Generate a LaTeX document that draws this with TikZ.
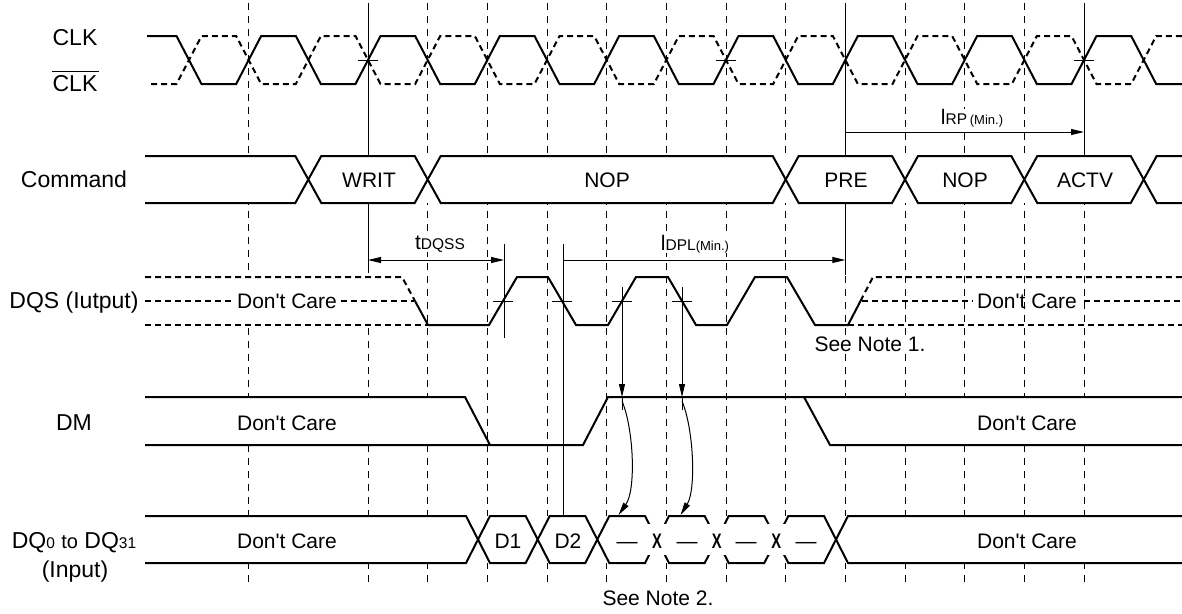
\documentclass[tikz,border=0pt]{standalone}
\usepackage{fontspec}
\setmainfont{Liberation Sans}
\usetikzlibrary{arrows.meta}
\newcommand\fsL{\fontsize{23}{27}\selectfont}
\newcommand\fsM{\fontsize{21}{25}\selectfont}
\newcommand\fsT{\fontsize{20}{24}\selectfont}
\newcommand\fsS{\fontsize{15.5}{18}\selectfont}
\newcommand\fsXS{\fontsize{13}{16}\selectfont}
\newcommand\fsX{\fontsize{21}{24}\selectfont\bfseries}
\newcommand\apos{\textquotesingle}
\begin{document}
\begin{tikzpicture}[x=1pt,y=-1pt,
  wave/.style={line width=2pt},
  dcare/.style={line width=2pt, dash pattern=on 6pt off 4pt},
  gridl/.style={line width=1pt, dash pattern=on 7pt off 6pt},
  thinl/.style={line width=1pt},
  arr/.style={thinl, -{Triangle[length=13pt,width=6pt]}},
  darr/.style={thinl, {Triangle[length=13pt,width=6pt]}-{Triangle[length=13pt,width=6pt]}},
  lbl/.style={font=\fsL, inner sep=0pt, anchor=base},
  txt/.style={font=\fsM, inner sep=0pt, anchor=base},
  ctxt/.style={inner sep=0pt, anchor=base, fill=white}
]
\useasboundingbox (0,0) rectangle (1182,613);
\fill[white] (0,0) rectangle (1182,613);

% vertical grid
\foreach \k in {-2,0,1,...,12}
  \draw[gridl] ({368+59.667*\k},3) -- ({368+59.667*\k},585);
\draw[thinl] (368,3) -- (368,273);
\draw[thinl] (845.3,3) -- (845.3,275);
\draw[thinl] (1084,3) -- (1084,155);

% white regions hiding the grid
\fill[white] (145,156) rectangle (1182,203);
\fill[white] (145,277) -- (402,277) -- (428,325) -- (145,325) -- cycle;
\fill[white] (145,397) -- (465,397) -- (490,445) -- (145,445) -- cycle;
\fill[white] (804,397) -- (1182,397) -- (1182,445) -- (830,445) -- cycle;
\fill[white] (145,516) rectangle (1182,563);

% CLK and /CLK
\draw[wave] (147,36) \foreach \k in {-3,...,13} {
   -- ({368+59.667*\k-12.5},{60-24*(2*mod(\k+4,2)-1)})
   -- ({368+59.667*\k+12.5},{60+24*(2*mod(\k+4,2)-1)}) } -- (1182,84);
\draw[dcare] (151,84) \foreach \k in {-3,...,13} {
   -- ({368+59.667*\k-12.5},{60+24*(2*mod(\k+4,2)-1)})
   -- ({368+59.667*\k+12.5},{60-24*(2*mod(\k+4,2)-1)}) } -- (1182,36);
\foreach \x in {368,726,1084}
  \draw[thinl] (\x-10,60) -- (\x+10,60);

% Command bus
\draw[wave] (145,156) -- (295.3,156) -- (321.3,203) -- (414.7,203) -- (440.7,156)
  -- (772.7,156) -- (798.7,203) -- (892,203) -- (918,156) -- (1011.3,156)
  -- (1037.3,203) -- (1130.7,203) -- (1156.7,156) -- (1182,156);
\draw[wave] (145,203) -- (295.3,203) -- (321.3,156) -- (414.7,156) -- (440.7,203)
  -- (772.7,203) -- (798.7,156) -- (892,156) -- (918,203) -- (1011.3,203)
  -- (1037.3,156) -- (1130.7,156) -- (1156.7,203) -- (1182,203);

% DQS
\draw[dcare] (145,277) -- (402,277) -- (415,301);
\draw[dcare] (145,325) -- (428,325);
\draw[dcare] (145,301) -- (233,301);
\draw[dcare] (341,301) -- (414,301);
\draw[wave] (415,301) -- (428,325) -- (489,325) -- (517,277) -- (548,277) -- (576,325)
  -- (608,325) -- (636,277) -- (668,277) -- (696,325) -- (727,325) -- (755,277)
  -- (787,277) -- (815,325) -- (848,325) -- (860.5,301);
\draw[dcare] (860.5,301) -- (873,277) -- (1182,277);
\draw[dcare] (848,325) -- (1182,325);
\draw[dcare] (862,301) -- (973,301);
\draw[dcare] (1084,301) -- (1182,301);
\foreach \x in {503,562,622,682}
  \draw[thinl] (\x-10,301) -- (\x+10,301);
\draw[thinl] (504,244) -- (504,338);
\draw[thinl] (563,244) -- (563,516);

% DM
\draw[wave] (145,397) -- (465,397) -- (490,445);
\draw[wave] (145,445) -- (583,445) -- (608,397) -- (1182,397);
\draw[wave] (804,397) -- (830,445) -- (1182,445);

% DQ bus
\draw[wave] (145,516) -- (466,516) -- (490,563) -- (525.7,563) -- (549.7,516)
  -- (585.3,516) -- (609.3,563) -- (645,563) -- (669,516) -- (704.7,516)
  -- (728.7,563) -- (764.3,563) -- (788.3,516) -- (824,516) -- (848,563) -- (1182,563);
\draw[wave] (145,563) -- (466,563) -- (490,516) -- (525.7,516) -- (549.7,563)
  -- (585.3,563) -- (609.3,516) -- (645,516) -- (669,563) -- (704.7,563)
  -- (728.7,516) -- (764.3,516) -- (788.3,563) -- (824,563) -- (848,516) -- (1182,516);
\fill[white] (647.5,524) rectangle (666.5,555);
\fill[white] (707.2,524) rectangle (726.2,555);
\fill[white] (766.8,524) rectangle (785.8,555);
\node[inner sep=0pt, anchor=base] (xa) at (657,548.5) {\scalebox{0.7}[1]{\fsX X}};
\node[inner sep=0pt, anchor=base] (xb) at (716.7,548.5) {\scalebox{0.7}[1]{\fsX X}};
\node[inner sep=0pt, anchor=base] (xc) at (776.3,548.5) {\scalebox{0.7}[1]{\fsX X}};

% timing arrows
\coordinate (wrA) at (368,260);
\coordinate (dqsA) at (504,260);
\coordinate (dplA) at (563,260);
\coordinate (preA) at (845.3,260);
\coordinate (rpA) at (845.3,132);
\coordinate (actA) at (1084,132);
\draw[darr] (wrA) -- (dqsA);
\draw[arr] (dplA) -- (preA);
\draw[arr] (rpA) -- (actA);

% DQS -> DM -> DQ arrows
\coordinate (s1) at (622,287);
\coordinate (m1) at (622,397);
\coordinate (m1b) at (622,410);
\coordinate (c1) at (622,401);
\coordinate (q1) at (618.5,515);
\coordinate (s2) at (682,287);
\coordinate (m2) at (682,397);
\coordinate (m2b) at (682,410);
\coordinate (c2) at (682,401);
\coordinate (q2) at (680.5,515);
\draw[arr] (s1) -- (m1);
\draw[thinl] (m1) -- (m1b);
\draw[arr] (c1) .. controls (634,430) and (636,490) .. (q1);
\draw[arr] (s2) -- (m2);
\draw[thinl] (m2) -- (m2b);
\draw[arr] (c2) .. controls (694,430) and (696,490) .. (q2);

% left labels
\node[lbl] (clk) at (75,45) {CLK};
\node[lbl] (clkb) at (75,91) {CLK};
\draw[line width=1pt] ([yshift=3.5pt]clkb.north west) -- ([yshift=3.5pt,xshift=1pt]clkb.north east);
\node[lbl] (cmd) at (74,187) {Command};
\node[lbl] (dqs) at (74,308.5) {DQS (Iutput)};
\node[lbl] (dm) at (74,430) {DM};
\node[lbl] (dq) at (74,548) {DQ{\fsS 0} {\fsT to} DQ{\fsS 31}};
\node[lbl] (inp) at (75,577) {(Input)};

% command labels
\node[txt] (writ) at (369,187) {WRIT};
\node[txt] (nop1) at (607,187) {NOP};
\node[txt] (pre) at (846,187) {PRE};
\node[txt] (nop2) at (965,187) {NOP};
\node[txt] (actv) at (1085,187) {ACTV};

% don't care labels
\node[txt] (dc1) at (287,308) {Don\apos t Care};
\node[txt] (dc2) at (1027,308) {Don\apos t Care};
\node[txt] (dc3) at (287,430) {Don\apos t Care};
\node[txt] (dc4) at (1027,430) {Don\apos t Care};
\node[txt] (dc5) at (287,548) {Don\apos t Care};
\node[txt] (dc6) at (1027,548) {Don\apos t Care};

% data labels
\node[txt] (d1) at (508,548) {D1};
\node[txt] (d2) at (568,548) {D2};
\node[txt] (da) at (627,548) {—};
\node[txt] (db) at (687,548) {—};
\node[txt] (dc) at (746,548) {—};
\node[txt] (dd) at (806,548) {—};

% timing labels
\node[ctxt] (tdqss) at (440,249) {{\fsM t}{\fsS DQSS}};
\node[ctxt] (tdpl) at (695,250) {{\fsM l}{\fsS DPL}{\fsXS (Min.)}};
\node[ctxt] (trp) at (972,124) {{\fsM l}{\fsS RP} {\fsXS (Min.)}};
\node[ctxt, font=\fsM] (n1) at (870,351) {See Note 1.};
\node[ctxt, font=\fsM] (n2) at (658,605) {See Note 2.};
\end{tikzpicture}
\end{document}
